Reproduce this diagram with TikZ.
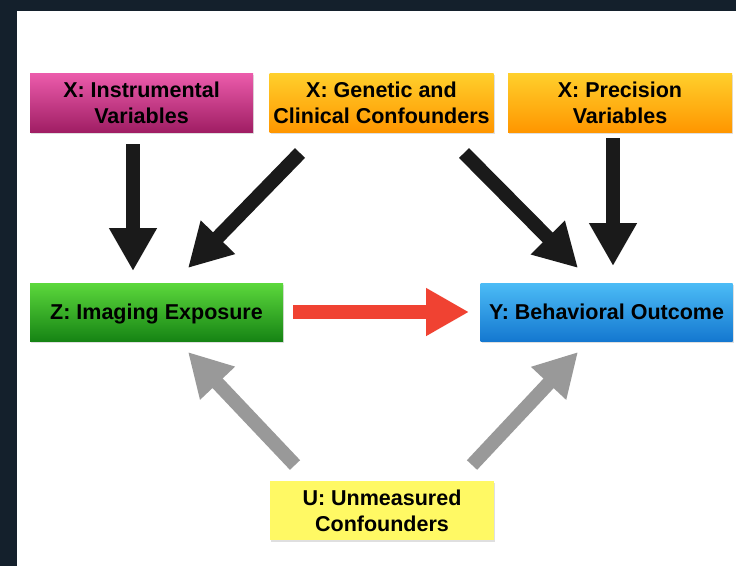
\documentclass[tikz,border=0pt]{standalone}
\usepackage{fontspec}
\setmainfont{Liberation Sans}
\usetikzlibrary{arrows.meta,shadows}

\definecolor{bgdark}{HTML}{14202C}
\definecolor{magtop}{HTML}{EC5CAC}
\definecolor{magbot}{HTML}{A01E64}
\definecolor{orgtop}{HTML}{FFD02C}
\definecolor{orgbot}{HTML}{FF9600}
\definecolor{grntop}{HTML}{5CD83C}
\definecolor{grnbot}{HTML}{168414}
\definecolor{blutop}{HTML}{4CBCF6}
\definecolor{blubot}{HTML}{1478D0}
\definecolor{ylw}{HTML}{FFF964}
\definecolor{arrowred}{HTML}{F04232}
\definecolor{arrowgrey}{HTML}{999999}
\definecolor{arrowblack}{HTML}{1A1A1A}

\begin{document}
\begin{tikzpicture}[x=1pt, y=-1pt,
  box/.style={minimum height=59pt, inner sep=0pt, align=center, text depth=0pt,
    font=\fontsize{21.5}{26}\selectfont\bfseries,
    drop shadow={shadow xshift=1pt, shadow yshift=-1.5pt, opacity=0.25}},
  arrowhead/.style={-{Triangle[width=45pt, length=43pt]}},
  blackarrow/.style={arrowhead, line width=14pt, draw=arrowblack},
  redarrow/.style={arrowhead, line width=14pt, draw=arrowred},
  greyarrow/.style={arrowhead, line width=14pt, draw=arrowgrey}]
  \useasboundingbox (0,0) rectangle (736,566);
  % background
  \fill[bgdark] (0,0) rectangle (736,566);
  \fill[white] (17,11) rectangle (736,566);
  % top row
  \node[box, minimum width=223pt, top color=magtop, bottom color=magbot]
    (inst) at (141.5,102.5) {X: Instrumental\\Variables};
  \node[box, minimum width=224pt, top color=orgtop, bottom color=orgbot]
    (gen) at (381.5,102.5) {X: Genetic and\\Clinical Confounders};
  \node[box, minimum width=224pt, top color=orgtop, bottom color=orgbot]
    (prec) at (620,102.5) {X: Precision\\Variables};
  % middle row
  \node[box, minimum width=253pt, minimum height=58pt, top color=grntop, bottom color=grnbot]
    (img) at (156.5,312) {Z: Imaging Exposure};
  \node[box, minimum width=252pt, minimum height=58pt, top color=blutop, bottom color=blubot]
    (beh) at (606.5,312) {Y: Behavioral Outcome};
  % bottom
  \node[box, minimum width=224pt, fill=ylw]
    (unm) at (382,510.5) {U: Unmeasured\\Confounders};
  % arrow ends
  \coordinate (instout) at (133,144);
  \coordinate (imgin1)  at (133,271);
  \coordinate (genout1) at (300,153);
  \coordinate (imgin2)  at (188,268);
  \coordinate (genout2) at (464,153);
  \coordinate (behin1)  at (578,268);
  \coordinate (precout) at (613,138);
  \coordinate (behin2)  at (613,266);
  \coordinate (imgout)  at (293,312);
  \coordinate (behin3)  at (469,312);
  \coordinate (unmout1) at (295,465);
  \coordinate (imgin3)  at (188,352);
  \coordinate (unmout2) at (472,465);
  \coordinate (behin4)  at (578,352);
  % arrows
  \draw[blackarrow] (instout) -- (imgin1);
  \draw[blackarrow] (genout1) -- (imgin2);
  \draw[blackarrow] (genout2) -- (behin1);
  \draw[blackarrow] (precout) -- (behin2);
  \draw[redarrow]   (imgout)  -- (behin3);
  \draw[greyarrow]  (unmout1) -- (imgin3);
  \draw[greyarrow]  (unmout2) -- (behin4);
\end{tikzpicture}
\end{document}
